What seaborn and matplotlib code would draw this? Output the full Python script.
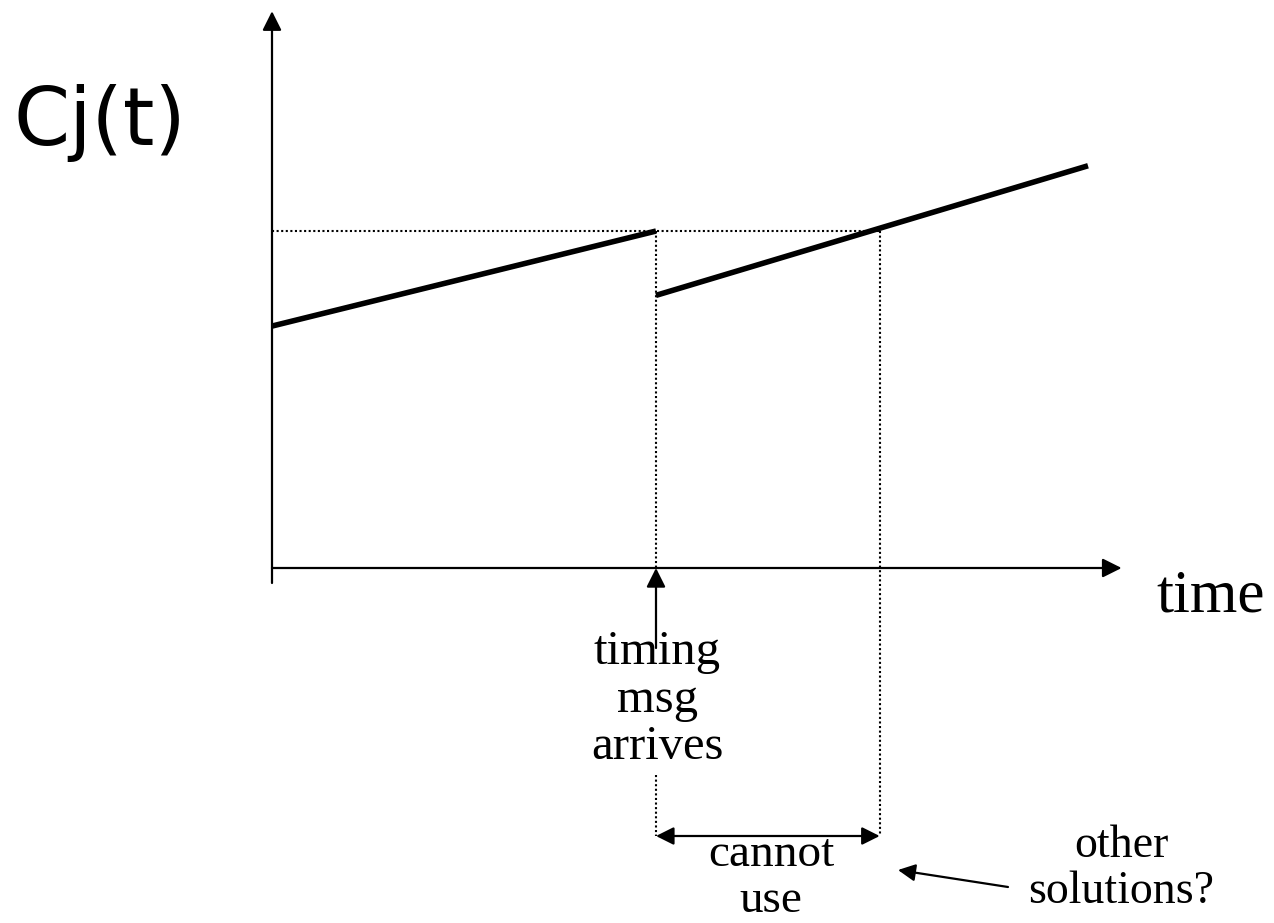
import matplotlib
matplotlib.use("Agg")
import matplotlib.pyplot as plt
import seaborn as sns
import pandas as pd

sns.set_theme(style="white")
plt.rcParams['font.family'] = ['DejaVu Sans']
plt.rcParams['text.color'] = 'black'

# ---- data (time units, clock units) ----
seg1_t = [0.0, 4.0]
seg1_c = [2.52, 3.51]
seg2_t = [4.0, 8.5]
seg2_c = [2.84, 4.19]
t_arrive = 4.0
t_catch = 6.33
c_level = 3.51
axis_t_end = 8.85
axis_c_end = 5.8
labels = {"ylabel": "Cj(t)", "xlabel": "time",
          "arrive": "timing\nmsg\narrives", "gap": "cannot\nuse",
          "other": "other\nsolutions?"}

# pixel mapping helpers (layout only): data = (px - 272)/96, (568 - py)/96
X0, Y0, S = 272, 568, 96.0
W, H = 1274, 923

fig = plt.figure(figsize=(W / 100, H / 100), dpi=100)
ax = fig.add_axes([0, 0, 1, 1])
ax.set_xlim(-X0 / S, (W - X0) / S)
ax.set_ylim((Y0 - H) / S, Y0 / S)
ax.axis('off')

def px(x, y):
    return ((x - X0) / S, (Y0 - y) / S)

# clock segments
for t, c in ((seg1_t, seg1_c), (seg2_t, seg2_c)):
    df = pd.DataFrame({"t": t, "c": c})
    sns.lineplot(data=df, x="t", y="c", ax=ax, color="black", linewidth=4.0,
                 solid_capstyle="butt", legend=False)

# dotted guides
dot = dict(color="black", linewidth=1.5, linestyle=(0, (1, 1.2)))
ax.plot([0, t_catch], [c_level, c_level], **dot)
ax.plot([t_arrive, t_arrive], [c_level, 0], **dot)
low_dot_top = px(0, 775)[1]
gap_y = px(0, 836)[1]
ax.plot([t_arrive, t_arrive], [low_dot_top, gap_y], **dot)
ax.plot([t_catch, t_catch], [c_level, gap_y], **dot)

arrow = dict(arrowstyle='-|>', color='black', lw=1.6, mutation_scale=29,
             shrinkA=0, shrinkB=0)
# axes
ax.plot([0, 0], [px(0, 583)[1], 0], color='black', lw=1.6)
ax.annotate('', xy=(0, axis_c_end), xytext=(0, 0), arrowprops=arrow)
ax.annotate('', xy=(axis_t_end, 0), xytext=(0, 0), arrowprops=arrow)

# timing msg arrow
ax.annotate('', xy=(t_arrive, 0), xytext=(t_arrive, px(0, 648)[1]), arrowprops=arrow)

# double arrow
ax.annotate('', xy=(t_catch, gap_y), xytext=(t_arrive, gap_y),
            arrowprops=dict(arrowstyle='<|-|>', color='black', lw=1.6,
                            mutation_scale=27, shrinkA=0, shrinkB=0))

# other solutions arrow
ax.annotate('', xy=px(898, 870), xytext=px(1008, 887),
            arrowprops=dict(arrowstyle='-|>', color='black', lw=1.6,
                            mutation_scale=26, shrinkA=0, shrinkB=0))

serif = ['Liberation Serif', 'DejaVu Serif']
ax.text(*px(13, 145), labels["ylabel"], fontsize=58, family=['DejaVu Sans'],
        ha='left', va='baseline', color='black')
ax.text(*px(1156, 612), labels["xlabel"], fontsize=44, family=serif,
        ha='left', va='baseline', color='black')
ax.text(*px(657, 759), labels["arrive"], fontsize=35, family=serif,
        ha='center', va='baseline', linespacing=1.1, color='black')
ax.text(*px(771, 912), labels["gap"], fontsize=34, family=serif,
        ha='center', va='baseline', linespacing=1.1, color='black')
ax.text(*px(1121, 903), labels["other"], fontsize=33, family=serif,
        ha='center', va='baseline', linespacing=1.1, color='black')

fig.savefig("out.png", dpi=100, facecolor="white")
